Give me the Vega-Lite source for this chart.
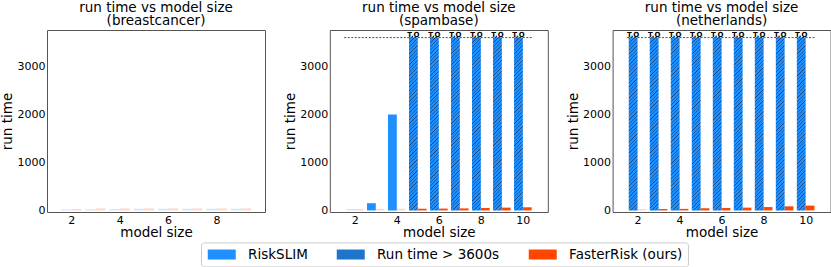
{
  "$schema": "https://vega.github.io/schema/vega-lite/v6.json",
  "padding": {"left": 0, "top": 0, "right": 0, "bottom": 0},
  "config": {
    "font": "DejaVu Sans",
    "view": {"stroke": "#555", "strokeWidth": 1},
    "axis": {"grid": false, "domain": false, "ticks": false, "labelFontSize": 11, "labelColor": "#000", "titleFontSize": 13.5, "titleFontWeight": "normal", "titleColor": "#000", "labelPadding": 2},
    "axisX": {"titlePadding": 0},
    "axisY": {"titlePadding": 2.5, "format": "d"},
    "title": {"fontSize": 13.5, "fontWeight": "normal", "color": "#000"}
  },
  "data": {"values": [
    {"dataset": "breastcancer", "size": 2, "method": "RiskSLIM", "time": 22, "timeout": false, "faint": true},
    {"dataset": "breastcancer", "size": 3, "method": "RiskSLIM", "time": 25, "timeout": false, "faint": true},
    {"dataset": "breastcancer", "size": 4, "method": "RiskSLIM", "time": 30, "timeout": false, "faint": true},
    {"dataset": "breastcancer", "size": 5, "method": "RiskSLIM", "time": 35, "timeout": false, "faint": true},
    {"dataset": "breastcancer", "size": 6, "method": "RiskSLIM", "time": 35, "timeout": false, "faint": true},
    {"dataset": "breastcancer", "size": 7, "method": "RiskSLIM", "time": 35, "timeout": false, "faint": true},
    {"dataset": "breastcancer", "size": 8, "method": "RiskSLIM", "time": 35, "timeout": false, "faint": true},
    {"dataset": "breastcancer", "size": 9, "method": "RiskSLIM", "time": 35, "timeout": false, "faint": true},
    {"dataset": "breastcancer", "size": 2, "method": "FasterRisk (ours)", "time": 30, "timeout": false, "faint": true},
    {"dataset": "breastcancer", "size": 3, "method": "FasterRisk (ours)", "time": 40, "timeout": false, "faint": true},
    {"dataset": "breastcancer", "size": 4, "method": "FasterRisk (ours)", "time": 40, "timeout": false, "faint": true},
    {"dataset": "breastcancer", "size": 5, "method": "FasterRisk (ours)", "time": 40, "timeout": false, "faint": true},
    {"dataset": "breastcancer", "size": 6, "method": "FasterRisk (ours)", "time": 40, "timeout": false, "faint": true},
    {"dataset": "breastcancer", "size": 7, "method": "FasterRisk (ours)", "time": 40, "timeout": false, "faint": true},
    {"dataset": "breastcancer", "size": 8, "method": "FasterRisk (ours)", "time": 40, "timeout": false, "faint": true},
    {"dataset": "breastcancer", "size": 9, "method": "FasterRisk (ours)", "time": 40, "timeout": false, "faint": true},
    {"dataset": "spambase", "size": 2, "method": "RiskSLIM", "time": 30, "timeout": false, "faint": true},
    {"dataset": "spambase", "size": 3, "method": "RiskSLIM", "time": 150, "timeout": false, "faint": false},
    {"dataset": "spambase", "size": 4, "method": "RiskSLIM", "time": 2000, "timeout": false, "faint": false},
    {"dataset": "spambase", "size": 5, "method": "RiskSLIM", "time": 3600, "timeout": true, "faint": false},
    {"dataset": "spambase", "size": 6, "method": "RiskSLIM", "time": 3600, "timeout": true, "faint": false},
    {"dataset": "spambase", "size": 7, "method": "RiskSLIM", "time": 3600, "timeout": true, "faint": false},
    {"dataset": "spambase", "size": 8, "method": "RiskSLIM", "time": 3600, "timeout": true, "faint": false},
    {"dataset": "spambase", "size": 9, "method": "RiskSLIM", "time": 3600, "timeout": true, "faint": false},
    {"dataset": "spambase", "size": 10, "method": "RiskSLIM", "time": 3600, "timeout": true, "faint": false},
    {"dataset": "spambase", "size": 2, "method": "FasterRisk (ours)", "time": 30, "timeout": false, "faint": true},
    {"dataset": "spambase", "size": 3, "method": "FasterRisk (ours)", "time": 32, "timeout": false, "faint": true},
    {"dataset": "spambase", "size": 4, "method": "FasterRisk (ours)", "time": 35, "timeout": false, "faint": true},
    {"dataset": "spambase", "size": 5, "method": "FasterRisk (ours)", "time": 35, "timeout": false, "faint": false},
    {"dataset": "spambase", "size": 6, "method": "FasterRisk (ours)", "time": 38, "timeout": false, "faint": false},
    {"dataset": "spambase", "size": 7, "method": "FasterRisk (ours)", "time": 42, "timeout": false, "faint": false},
    {"dataset": "spambase", "size": 8, "method": "FasterRisk (ours)", "time": 50, "timeout": false, "faint": false},
    {"dataset": "spambase", "size": 9, "method": "FasterRisk (ours)", "time": 58, "timeout": false, "faint": false},
    {"dataset": "spambase", "size": 10, "method": "FasterRisk (ours)", "time": 65, "timeout": false, "faint": false},
    {"dataset": "netherlands", "size": 2, "method": "RiskSLIM", "time": 3600, "timeout": true, "faint": false},
    {"dataset": "netherlands", "size": 3, "method": "RiskSLIM", "time": 3600, "timeout": true, "faint": false},
    {"dataset": "netherlands", "size": 4, "method": "RiskSLIM", "time": 3600, "timeout": true, "faint": false},
    {"dataset": "netherlands", "size": 5, "method": "RiskSLIM", "time": 3600, "timeout": true, "faint": false},
    {"dataset": "netherlands", "size": 6, "method": "RiskSLIM", "time": 3600, "timeout": true, "faint": false},
    {"dataset": "netherlands", "size": 7, "method": "RiskSLIM", "time": 3600, "timeout": true, "faint": false},
    {"dataset": "netherlands", "size": 8, "method": "RiskSLIM", "time": 3600, "timeout": true, "faint": false},
    {"dataset": "netherlands", "size": 9, "method": "RiskSLIM", "time": 3600, "timeout": true, "faint": false},
    {"dataset": "netherlands", "size": 10, "method": "RiskSLIM", "time": 3600, "timeout": true, "faint": false},
    {"dataset": "netherlands", "size": 2, "method": "FasterRisk (ours)", "time": 30, "timeout": false, "faint": true},
    {"dataset": "netherlands", "size": 3, "method": "FasterRisk (ours)", "time": 30, "timeout": false, "faint": false},
    {"dataset": "netherlands", "size": 4, "method": "FasterRisk (ours)", "time": 32, "timeout": false, "faint": false},
    {"dataset": "netherlands", "size": 5, "method": "FasterRisk (ours)", "time": 45, "timeout": false, "faint": false},
    {"dataset": "netherlands", "size": 6, "method": "FasterRisk (ours)", "time": 50, "timeout": false, "faint": false},
    {"dataset": "netherlands", "size": 7, "method": "FasterRisk (ours)", "time": 58, "timeout": false, "faint": false},
    {"dataset": "netherlands", "size": 8, "method": "FasterRisk (ours)", "time": 70, "timeout": false, "faint": false},
    {"dataset": "netherlands", "size": 9, "method": "FasterRisk (ours)", "time": 85, "timeout": false, "faint": false},
    {"dataset": "netherlands", "size": 10, "method": "FasterRisk (ours)", "time": 100, "timeout": false, "faint": false}
  ]},
  "spacing": 64.8,
  "bounds": "flush",
  "resolve": {"scale": {"x": "independent", "y": "independent", "color": "shared"}},
  "hconcat": [
    {
      "width": 218, "height": 182,
      "title": {"text": ["run time vs model size", "(breastcancer)"], "lineHeight": 13, "offset": 3},
      "transform": [{"filter": "datum.dataset === 'breastcancer'"}],
      "layer": [
        {
          "transform": [{"filter": "datum.method === 'RiskSLIM' && !datum.timeout"}],
          "mark": {"type": "bar", "width": 10.16, "xOffset": -5.08},
          "encoding": {
            "x": {"field": "size", "type": "quantitative", "scale": {"domain": [1.21, 9.79], "nice": false, "zero": false}, "axis": {"values": [2, 4, 6, 8], "title": "model size"}},
            "y": {"field": "time", "type": "quantitative", "scale": {"domain": [-33, 3758], "nice": false}, "axis": {"values": [0, 1000, 2000, 3000], "title": "run time"}},
            "color": {"field": "method", "type": "nominal",
              "scale": {"domain": ["RiskSLIM", "Run time > 3600s", "FasterRisk (ours)"], "range": ["#1e90ff", "#1f74cc", "#ff4500"]},
              "legend": {"title": null, "orient": "none", "legendX": 154, "legendY": 212.4, "direction": "horizontal",
                "symbolType": "M-2.8,-1H2.8V1H-2.8Z", "symbolSize": 100, "symbolOffset": 9, "symbolStrokeWidth": 0, "symbolOpacity": 1,
                "labelFontSize": 13.5, "labelColor": "#000", "labelOffset": 19.6, "labelLimit": 300, "columnPadding": 27,
                "padding": 5, "strokeColor": "#cccccc", "cornerRadius": 3, "fillColor": "#ffffff"}},
            "opacity": {"condition": {"test": "datum.faint", "value": 0.22}, "value": 1}
          }
        },
        {
          "transform": [{"filter": "datum.method === 'FasterRisk (ours)'"}],
          "mark": {"type": "bar", "width": 10.16, "xOffset": 5.08},
          "encoding": {
            "x": {"field": "size", "type": "quantitative"},
            "y": {"field": "time", "type": "quantitative"},
            "color": {"field": "method", "type": "nominal"},
            "opacity": {"condition": {"test": "datum.faint", "value": 0.22}, "value": 1}
          }
        }
      ]
    },
    {
      "width": 218, "height": 182,
      "title": {"text": ["run time vs model size", "(spambase)"], "lineHeight": 13, "offset": 3},
      "transform": [{"filter": "datum.dataset === 'spambase'"}],
      "layer": [
        {
          "transform": [{"filter": "datum.method === 'RiskSLIM' && !datum.timeout"}],
          "mark": {"type": "bar", "width": 8.81, "xOffset": -4.4},
          "encoding": {
            "x": {"field": "size", "type": "quantitative", "scale": {"domain": [1.05, 10.95], "nice": false, "zero": false}, "axis": {"values": [2, 4, 6, 8, 10], "title": "model size"}},
            "y": {"field": "time", "type": "quantitative", "scale": {"domain": [-33, 3758], "nice": false}, "axis": {"values": [0, 1000, 2000, 3000], "title": "run time"}},
            "color": {"field": "method", "type": "nominal"},
            "opacity": {"condition": {"test": "datum.faint", "value": 0.22}, "value": 1}
          }
        },
        {
          "transform": [{"filter": "datum.method === 'FasterRisk (ours)'"}],
          "mark": {"type": "bar", "width": 8.81, "xOffset": 4.4},
          "encoding": {
            "x": {"field": "size", "type": "quantitative"},
            "y": {"field": "time", "type": "quantitative"},
            "color": {"field": "method", "type": "nominal"},
            "opacity": {"condition": {"test": "datum.faint", "value": 0.22}, "value": 1}
          }
        },
        {
          "transform": [{"filter": "datum.timeout"}],
          "mark": {"type": "bar", "width": 8.81, "xOffset": -4.4,
            "fill": {"gradient": "linear", "x1": 0, "y1": 0, "x2": 0.054, "y2": 1.06, "stops": [
              {"offset": 0, "color": "#1e90ff"},
              {"offset": 0.006, "color": "#1e90ff"}, {"offset": 0.01, "color": "#123f75"}, {"offset": 0.014, "color": "#1e90ff"},
              {"offset": 0.026, "color": "#1e90ff"}, {"offset": 0.03, "color": "#123f75"}, {"offset": 0.034, "color": "#1e90ff"},
              {"offset": 0.046, "color": "#1e90ff"}, {"offset": 0.05, "color": "#123f75"}, {"offset": 0.054, "color": "#1e90ff"},
              {"offset": 0.066, "color": "#1e90ff"}, {"offset": 0.07, "color": "#123f75"}, {"offset": 0.074, "color": "#1e90ff"},
              {"offset": 0.086, "color": "#1e90ff"}, {"offset": 0.09, "color": "#123f75"}, {"offset": 0.094, "color": "#1e90ff"},
              {"offset": 0.106, "color": "#1e90ff"}, {"offset": 0.11, "color": "#123f75"}, {"offset": 0.114, "color": "#1e90ff"},
              {"offset": 0.126, "color": "#1e90ff"}, {"offset": 0.13, "color": "#123f75"}, {"offset": 0.134, "color": "#1e90ff"},
              {"offset": 0.146, "color": "#1e90ff"}, {"offset": 0.15, "color": "#123f75"}, {"offset": 0.154, "color": "#1e90ff"},
              {"offset": 0.166, "color": "#1e90ff"}, {"offset": 0.17, "color": "#123f75"}, {"offset": 0.174, "color": "#1e90ff"},
              {"offset": 0.186, "color": "#1e90ff"}, {"offset": 0.19, "color": "#123f75"}, {"offset": 0.194, "color": "#1e90ff"},
              {"offset": 0.206, "color": "#1e90ff"}, {"offset": 0.21, "color": "#123f75"}, {"offset": 0.214, "color": "#1e90ff"},
              {"offset": 0.226, "color": "#1e90ff"}, {"offset": 0.23, "color": "#123f75"}, {"offset": 0.234, "color": "#1e90ff"},
              {"offset": 0.246, "color": "#1e90ff"}, {"offset": 0.25, "color": "#123f75"}, {"offset": 0.254, "color": "#1e90ff"},
              {"offset": 0.266, "color": "#1e90ff"}, {"offset": 0.27, "color": "#123f75"}, {"offset": 0.274, "color": "#1e90ff"},
              {"offset": 0.286, "color": "#1e90ff"}, {"offset": 0.29, "color": "#123f75"}, {"offset": 0.294, "color": "#1e90ff"},
              {"offset": 0.306, "color": "#1e90ff"}, {"offset": 0.31, "color": "#123f75"}, {"offset": 0.314, "color": "#1e90ff"},
              {"offset": 0.326, "color": "#1e90ff"}, {"offset": 0.33, "color": "#123f75"}, {"offset": 0.334, "color": "#1e90ff"},
              {"offset": 0.346, "color": "#1e90ff"}, {"offset": 0.35, "color": "#123f75"}, {"offset": 0.354, "color": "#1e90ff"},
              {"offset": 0.366, "color": "#1e90ff"}, {"offset": 0.37, "color": "#123f75"}, {"offset": 0.374, "color": "#1e90ff"},
              {"offset": 0.386, "color": "#1e90ff"}, {"offset": 0.39, "color": "#123f75"}, {"offset": 0.394, "color": "#1e90ff"},
              {"offset": 0.406, "color": "#1e90ff"}, {"offset": 0.41, "color": "#123f75"}, {"offset": 0.414, "color": "#1e90ff"},
              {"offset": 0.426, "color": "#1e90ff"}, {"offset": 0.43, "color": "#123f75"}, {"offset": 0.434, "color": "#1e90ff"},
              {"offset": 0.446, "color": "#1e90ff"}, {"offset": 0.45, "color": "#123f75"}, {"offset": 0.454, "color": "#1e90ff"},
              {"offset": 0.466, "color": "#1e90ff"}, {"offset": 0.47, "color": "#123f75"}, {"offset": 0.474, "color": "#1e90ff"},
              {"offset": 0.486, "color": "#1e90ff"}, {"offset": 0.49, "color": "#123f75"}, {"offset": 0.494, "color": "#1e90ff"},
              {"offset": 0.506, "color": "#1e90ff"}, {"offset": 0.51, "color": "#123f75"}, {"offset": 0.514, "color": "#1e90ff"},
              {"offset": 0.526, "color": "#1e90ff"}, {"offset": 0.53, "color": "#123f75"}, {"offset": 0.534, "color": "#1e90ff"},
              {"offset": 0.546, "color": "#1e90ff"}, {"offset": 0.55, "color": "#123f75"}, {"offset": 0.554, "color": "#1e90ff"},
              {"offset": 0.566, "color": "#1e90ff"}, {"offset": 0.57, "color": "#123f75"}, {"offset": 0.574, "color": "#1e90ff"},
              {"offset": 0.586, "color": "#1e90ff"}, {"offset": 0.59, "color": "#123f75"}, {"offset": 0.594, "color": "#1e90ff"},
              {"offset": 0.606, "color": "#1e90ff"}, {"offset": 0.61, "color": "#123f75"}, {"offset": 0.614, "color": "#1e90ff"},
              {"offset": 0.626, "color": "#1e90ff"}, {"offset": 0.63, "color": "#123f75"}, {"offset": 0.634, "color": "#1e90ff"},
              {"offset": 0.646, "color": "#1e90ff"}, {"offset": 0.65, "color": "#123f75"}, {"offset": 0.654, "color": "#1e90ff"},
              {"offset": 0.666, "color": "#1e90ff"}, {"offset": 0.67, "color": "#123f75"}, {"offset": 0.674, "color": "#1e90ff"},
              {"offset": 0.686, "color": "#1e90ff"}, {"offset": 0.69, "color": "#123f75"}, {"offset": 0.694, "color": "#1e90ff"},
              {"offset": 0.706, "color": "#1e90ff"}, {"offset": 0.71, "color": "#123f75"}, {"offset": 0.714, "color": "#1e90ff"},
              {"offset": 0.726, "color": "#1e90ff"}, {"offset": 0.73, "color": "#123f75"}, {"offset": 0.734, "color": "#1e90ff"},
              {"offset": 0.746, "color": "#1e90ff"}, {"offset": 0.75, "color": "#123f75"}, {"offset": 0.754, "color": "#1e90ff"},
              {"offset": 0.766, "color": "#1e90ff"}, {"offset": 0.77, "color": "#123f75"}, {"offset": 0.774, "color": "#1e90ff"},
              {"offset": 0.786, "color": "#1e90ff"}, {"offset": 0.79, "color": "#123f75"}, {"offset": 0.794, "color": "#1e90ff"},
              {"offset": 0.806, "color": "#1e90ff"}, {"offset": 0.81, "color": "#123f75"}, {"offset": 0.814, "color": "#1e90ff"},
              {"offset": 0.826, "color": "#1e90ff"}, {"offset": 0.83, "color": "#123f75"}, {"offset": 0.834, "color": "#1e90ff"},
              {"offset": 0.846, "color": "#1e90ff"}, {"offset": 0.85, "color": "#123f75"}, {"offset": 0.854, "color": "#1e90ff"},
              {"offset": 0.866, "color": "#1e90ff"}, {"offset": 0.87, "color": "#123f75"}, {"offset": 0.874, "color": "#1e90ff"},
              {"offset": 0.886, "color": "#1e90ff"}, {"offset": 0.89, "color": "#123f75"}, {"offset": 0.894, "color": "#1e90ff"},
              {"offset": 0.906, "color": "#1e90ff"}, {"offset": 0.91, "color": "#123f75"}, {"offset": 0.914, "color": "#1e90ff"},
              {"offset": 0.926, "color": "#1e90ff"}, {"offset": 0.93, "color": "#123f75"}, {"offset": 0.934, "color": "#1e90ff"},
              {"offset": 0.946, "color": "#1e90ff"}, {"offset": 0.95, "color": "#123f75"}, {"offset": 0.954, "color": "#1e90ff"},
              {"offset": 0.966, "color": "#1e90ff"}, {"offset": 0.97, "color": "#123f75"}, {"offset": 0.974, "color": "#1e90ff"},
              {"offset": 0.986, "color": "#1e90ff"}, {"offset": 0.99, "color": "#123f75"}, {"offset": 0.994, "color": "#1e90ff"},
              {"offset": 1, "color": "#1e90ff"}
            ]}},
          "encoding": {
            "x": {"field": "size", "type": "quantitative"},
            "y": {"field": "time", "type": "quantitative"}
          }
        },
        {
          "transform": [{"filter": "datum.timeout"}],
          "mark": {"type": "text", "text": "T.O", "fontWeight": "bold", "fontSize": 7, "baseline": "alphabetic", "dy": -1, "xOffset": -4.4, "color": "#000"},
          "encoding": {
            "x": {"field": "size", "type": "quantitative"},
            "y": {"field": "time", "type": "quantitative"}
          }
        },
        {
          "data": {"values": [{"limit": 3600}]},
          "mark": {"type": "rule", "strokeDash": [2, 1.5], "strokeWidth": 0.7, "color": "#000"},
          "encoding": {
            "x": {"datum": 1.5, "type": "quantitative"},
            "x2": {"datum": 10.5},
            "y": {"field": "limit", "type": "quantitative"}
          }
        }
      ]
    },
    {
      "width": 218, "height": 182,
      "title": {"text": ["run time vs model size", "(netherlands)"], "lineHeight": 13, "offset": 3},
      "transform": [{"filter": "datum.dataset === 'netherlands'"}],
      "layer": [
        {
          "transform": [{"filter": "datum.method === 'FasterRisk (ours)'"}],
          "mark": {"type": "bar", "width": 8.81, "xOffset": 4.4},
          "encoding": {
            "x": {"field": "size", "type": "quantitative", "scale": {"domain": [1.05, 10.95], "nice": false, "zero": false}, "axis": {"values": [2, 4, 6, 8, 10], "title": "model size"}},
            "y": {"field": "time", "type": "quantitative", "scale": {"domain": [-33, 3758], "nice": false}, "axis": {"values": [0, 1000, 2000, 3000], "title": "run time"}},
            "color": {"field": "method", "type": "nominal"},
            "opacity": {"condition": {"test": "datum.faint", "value": 0.22}, "value": 1}
          }
        },
        {
          "transform": [{"filter": "datum.timeout"}],
          "mark": {"type": "bar", "width": 8.81, "xOffset": -4.4,
            "fill": {"gradient": "linear", "x1": 0, "y1": 0, "x2": 0.054, "y2": 1.06, "stops": [
              {"offset": 0, "color": "#1e90ff"},
              {"offset": 0.006, "color": "#1e90ff"}, {"offset": 0.01, "color": "#123f75"}, {"offset": 0.014, "color": "#1e90ff"},
              {"offset": 0.026, "color": "#1e90ff"}, {"offset": 0.03, "color": "#123f75"}, {"offset": 0.034, "color": "#1e90ff"},
              {"offset": 0.046, "color": "#1e90ff"}, {"offset": 0.05, "color": "#123f75"}, {"offset": 0.054, "color": "#1e90ff"},
              {"offset": 0.066, "color": "#1e90ff"}, {"offset": 0.07, "color": "#123f75"}, {"offset": 0.074, "color": "#1e90ff"},
              {"offset": 0.086, "color": "#1e90ff"}, {"offset": 0.09, "color": "#123f75"}, {"offset": 0.094, "color": "#1e90ff"},
              {"offset": 0.106, "color": "#1e90ff"}, {"offset": 0.11, "color": "#123f75"}, {"offset": 0.114, "color": "#1e90ff"},
              {"offset": 0.126, "color": "#1e90ff"}, {"offset": 0.13, "color": "#123f75"}, {"offset": 0.134, "color": "#1e90ff"},
              {"offset": 0.146, "color": "#1e90ff"}, {"offset": 0.15, "color": "#123f75"}, {"offset": 0.154, "color": "#1e90ff"},
              {"offset": 0.166, "color": "#1e90ff"}, {"offset": 0.17, "color": "#123f75"}, {"offset": 0.174, "color": "#1e90ff"},
              {"offset": 0.186, "color": "#1e90ff"}, {"offset": 0.19, "color": "#123f75"}, {"offset": 0.194, "color": "#1e90ff"},
              {"offset": 0.206, "color": "#1e90ff"}, {"offset": 0.21, "color": "#123f75"}, {"offset": 0.214, "color": "#1e90ff"},
              {"offset": 0.226, "color": "#1e90ff"}, {"offset": 0.23, "color": "#123f75"}, {"offset": 0.234, "color": "#1e90ff"},
              {"offset": 0.246, "color": "#1e90ff"}, {"offset": 0.25, "color": "#123f75"}, {"offset": 0.254, "color": "#1e90ff"},
              {"offset": 0.266, "color": "#1e90ff"}, {"offset": 0.27, "color": "#123f75"}, {"offset": 0.274, "color": "#1e90ff"},
              {"offset": 0.286, "color": "#1e90ff"}, {"offset": 0.29, "color": "#123f75"}, {"offset": 0.294, "color": "#1e90ff"},
              {"offset": 0.306, "color": "#1e90ff"}, {"offset": 0.31, "color": "#123f75"}, {"offset": 0.314, "color": "#1e90ff"},
              {"offset": 0.326, "color": "#1e90ff"}, {"offset": 0.33, "color": "#123f75"}, {"offset": 0.334, "color": "#1e90ff"},
              {"offset": 0.346, "color": "#1e90ff"}, {"offset": 0.35, "color": "#123f75"}, {"offset": 0.354, "color": "#1e90ff"},
              {"offset": 0.366, "color": "#1e90ff"}, {"offset": 0.37, "color": "#123f75"}, {"offset": 0.374, "color": "#1e90ff"},
              {"offset": 0.386, "color": "#1e90ff"}, {"offset": 0.39, "color": "#123f75"}, {"offset": 0.394, "color": "#1e90ff"},
              {"offset": 0.406, "color": "#1e90ff"}, {"offset": 0.41, "color": "#123f75"}, {"offset": 0.414, "color": "#1e90ff"},
              {"offset": 0.426, "color": "#1e90ff"}, {"offset": 0.43, "color": "#123f75"}, {"offset": 0.434, "color": "#1e90ff"},
              {"offset": 0.446, "color": "#1e90ff"}, {"offset": 0.45, "color": "#123f75"}, {"offset": 0.454, "color": "#1e90ff"},
              {"offset": 0.466, "color": "#1e90ff"}, {"offset": 0.47, "color": "#123f75"}, {"offset": 0.474, "color": "#1e90ff"},
              {"offset": 0.486, "color": "#1e90ff"}, {"offset": 0.49, "color": "#123f75"}, {"offset": 0.494, "color": "#1e90ff"},
              {"offset": 0.506, "color": "#1e90ff"}, {"offset": 0.51, "color": "#123f75"}, {"offset": 0.514, "color": "#1e90ff"},
              {"offset": 0.526, "color": "#1e90ff"}, {"offset": 0.53, "color": "#123f75"}, {"offset": 0.534, "color": "#1e90ff"},
              {"offset": 0.546, "color": "#1e90ff"}, {"offset": 0.55, "color": "#123f75"}, {"offset": 0.554, "color": "#1e90ff"},
              {"offset": 0.566, "color": "#1e90ff"}, {"offset": 0.57, "color": "#123f75"}, {"offset": 0.574, "color": "#1e90ff"},
              {"offset": 0.586, "color": "#1e90ff"}, {"offset": 0.59, "color": "#123f75"}, {"offset": 0.594, "color": "#1e90ff"},
              {"offset": 0.606, "color": "#1e90ff"}, {"offset": 0.61, "color": "#123f75"}, {"offset": 0.614, "color": "#1e90ff"},
              {"offset": 0.626, "color": "#1e90ff"}, {"offset": 0.63, "color": "#123f75"}, {"offset": 0.634, "color": "#1e90ff"},
              {"offset": 0.646, "color": "#1e90ff"}, {"offset": 0.65, "color": "#123f75"}, {"offset": 0.654, "color": "#1e90ff"},
              {"offset": 0.666, "color": "#1e90ff"}, {"offset": 0.67, "color": "#123f75"}, {"offset": 0.674, "color": "#1e90ff"},
              {"offset": 0.686, "color": "#1e90ff"}, {"offset": 0.69, "color": "#123f75"}, {"offset": 0.694, "color": "#1e90ff"},
              {"offset": 0.706, "color": "#1e90ff"}, {"offset": 0.71, "color": "#123f75"}, {"offset": 0.714, "color": "#1e90ff"},
              {"offset": 0.726, "color": "#1e90ff"}, {"offset": 0.73, "color": "#123f75"}, {"offset": 0.734, "color": "#1e90ff"},
              {"offset": 0.746, "color": "#1e90ff"}, {"offset": 0.75, "color": "#123f75"}, {"offset": 0.754, "color": "#1e90ff"},
              {"offset": 0.766, "color": "#1e90ff"}, {"offset": 0.77, "color": "#123f75"}, {"offset": 0.774, "color": "#1e90ff"},
              {"offset": 0.786, "color": "#1e90ff"}, {"offset": 0.79, "color": "#123f75"}, {"offset": 0.794, "color": "#1e90ff"},
              {"offset": 0.806, "color": "#1e90ff"}, {"offset": 0.81, "color": "#123f75"}, {"offset": 0.814, "color": "#1e90ff"},
              {"offset": 0.826, "color": "#1e90ff"}, {"offset": 0.83, "color": "#123f75"}, {"offset": 0.834, "color": "#1e90ff"},
              {"offset": 0.846, "color": "#1e90ff"}, {"offset": 0.85, "color": "#123f75"}, {"offset": 0.854, "color": "#1e90ff"},
              {"offset": 0.866, "color": "#1e90ff"}, {"offset": 0.87, "color": "#123f75"}, {"offset": 0.874, "color": "#1e90ff"},
              {"offset": 0.886, "color": "#1e90ff"}, {"offset": 0.89, "color": "#123f75"}, {"offset": 0.894, "color": "#1e90ff"},
              {"offset": 0.906, "color": "#1e90ff"}, {"offset": 0.91, "color": "#123f75"}, {"offset": 0.914, "color": "#1e90ff"},
              {"offset": 0.926, "color": "#1e90ff"}, {"offset": 0.93, "color": "#123f75"}, {"offset": 0.934, "color": "#1e90ff"},
              {"offset": 0.946, "color": "#1e90ff"}, {"offset": 0.95, "color": "#123f75"}, {"offset": 0.954, "color": "#1e90ff"},
              {"offset": 0.966, "color": "#1e90ff"}, {"offset": 0.97, "color": "#123f75"}, {"offset": 0.974, "color": "#1e90ff"},
              {"offset": 0.986, "color": "#1e90ff"}, {"offset": 0.99, "color": "#123f75"}, {"offset": 0.994, "color": "#1e90ff"},
              {"offset": 1, "color": "#1e90ff"}
            ]}},
          "encoding": {
            "x": {"field": "size", "type": "quantitative"},
            "y": {"field": "time", "type": "quantitative"}
          }
        },
        {
          "transform": [{"filter": "datum.timeout"}],
          "mark": {"type": "text", "text": "T.O", "fontWeight": "bold", "fontSize": 7, "baseline": "alphabetic", "dy": -1, "xOffset": -4.4, "color": "#000"},
          "encoding": {
            "x": {"field": "size", "type": "quantitative"},
            "y": {"field": "time", "type": "quantitative"}
          }
        },
        {
          "data": {"values": [{"limit": 3600}]},
          "mark": {"type": "rule", "strokeDash": [2, 1.5], "strokeWidth": 0.7, "color": "#000"},
          "encoding": {
            "x": {"datum": 1.5, "type": "quantitative"},
            "x2": {"datum": 10.5},
            "y": {"field": "limit", "type": "quantitative"}
          }
        }
      ]
    }
  ]
}
